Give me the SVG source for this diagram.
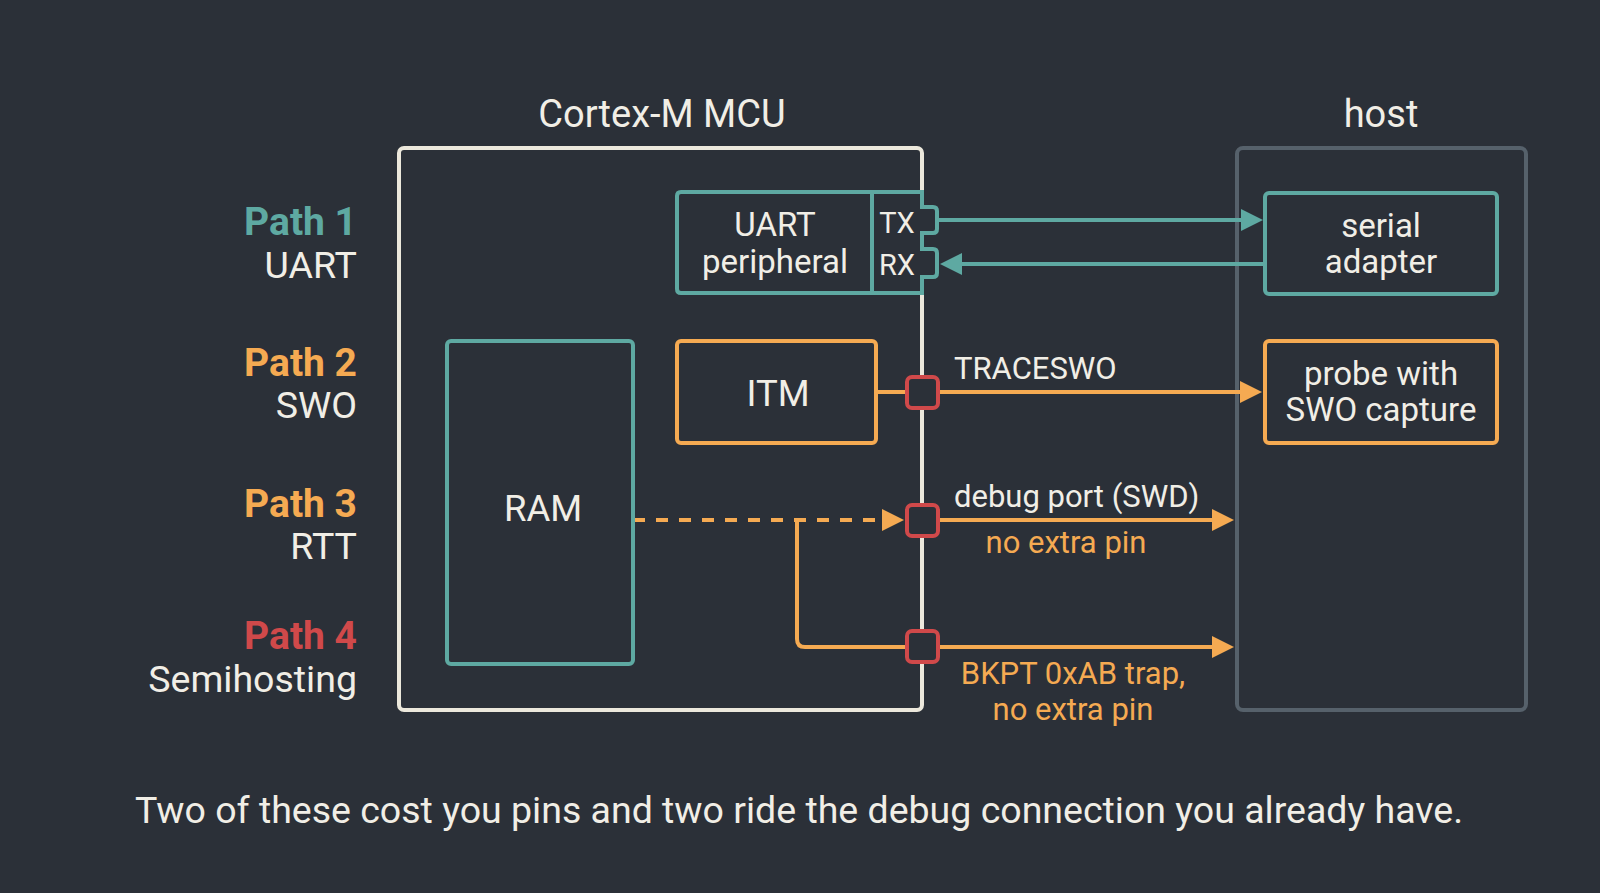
<svg xmlns="http://www.w3.org/2000/svg" width="1600" height="893" viewBox="0 0 1600 893">
<style>
text{font-family:Roboto,"Liberation Sans",sans-serif;fill:#f1eee6}
.lbl{font-size:37.5px;text-anchor:end}
.pb{font-weight:bold;font-size:39px}
.node{font-size:33px;text-anchor:middle}
.big{font-size:36.5px}
.title{font-size:38px;text-anchor:middle}
.pin{font-size:29px;text-anchor:middle}
.wire{font-size:31px}
.owire{font-size:31px;fill:#f5aa52;text-anchor:middle}
.teal{fill:none;stroke:#5ea9a2;stroke-width:4}
.orange{fill:none;stroke:#f5aa52;stroke-width:4}
.sq{fill:#2b3038;stroke:#d0494a;stroke-width:4}
</style>
<defs>
<marker id="ahT" viewBox="0 0 22 22" refX="10" refY="11" markerWidth="22" markerHeight="22" markerUnits="userSpaceOnUse" orient="auto"><path d="M0,0 L22,11 L0,22 z" fill="#5ea9a2"/></marker>
<marker id="ahO" viewBox="0 0 22 22" refX="10" refY="11" markerWidth="22" markerHeight="22" markerUnits="userSpaceOnUse" orient="auto"><path d="M0,0 L22,11 L0,22 z" fill="#f5aa52"/></marker>
</defs>
<rect width="1600" height="893" fill="#2b3038"/>

<g id="labels">
<text class="lbl pb" x="357" y="235" style="fill:#5ea9a2">Path 1</text>
<text class="lbl" x="357" y="278">UART</text>
<text class="lbl pb" x="357" y="376" style="fill:#f5aa52">Path 2</text>
<text class="lbl" x="357" y="418">SWO</text>
<text class="lbl pb" x="357" y="517" style="fill:#f5aa52">Path 3</text>
<text class="lbl" x="357" y="559">RTT</text>
<text class="lbl pb" x="357" y="649" style="fill:#d0494a">Path 4</text>
<text class="lbl" x="357" y="692">Semihosting</text>
</g>

<g id="mcu">
<text class="title" x="662" y="127">Cortex-M MCU</text>
<rect x="399" y="148" width="523" height="562" rx="5" fill="none" stroke="#ece8dc" stroke-width="4"/>
</g>

<g id="host">
<text class="title" x="1381" y="127">host</text>
<rect x="1237" y="148" width="289" height="562" rx="6" fill="none" stroke="#56616b" stroke-width="4"/>
</g>

<g id="connectors">
<line class="teal" x1="937" y1="220" x2="1251" y2="220" marker-end="url(#ahT)"/>
<line class="teal" x1="1265" y1="264" x2="952" y2="264" marker-end="url(#ahT)"/>
<line class="orange" x1="876" y1="392" x2="1250" y2="392" marker-end="url(#ahO)"/>
<line class="orange" x1="633" y1="520" x2="892" y2="520" stroke-dasharray="12 11" marker-end="url(#ahO)"/>
<line class="orange" x1="939" y1="520" x2="1222" y2="520" marker-end="url(#ahO)"/>
<path class="orange" d="M797,520 V639 Q797,647 805,647 H1222" marker-end="url(#ahO)"/>
<text class="wire" x="954" y="379">TRACESWO</text>
<text class="wire" x="954" y="507">debug port (SWD)</text>
<text class="owire" x="1066" y="553">no extra pin</text>
<text class="owire" x="1073" y="684">BKPT 0xAB trap,</text>
<text class="owire" x="1073" y="720">no extra pin</text>
</g>

<g id="uart">
<path d="M681,192 H922 V207 H933 Q937,207 937,211 V229 Q937,233 933,233 H922 V249 H933 Q937,249 937,253 V273 Q937,277 933,277 H922 V293 H681 Q677,293 677,289 V196 Q677,192 681,192 Z" fill="#2b3038" stroke="#5ea9a2" stroke-width="4"/>
<line x1="872" y1="192" x2="872" y2="293" stroke="#5ea9a2" stroke-width="4"/>
<text class="node" x="775" y="236">UART</text>
<text class="node" x="775" y="273">peripheral</text>
<text class="pin" x="897" y="233">TX</text>
<text class="pin" x="897" y="275">RX</text>
</g>

<g id="itm">
<rect x="677" y="341" width="199" height="102" rx="4" class="orange"/>
<text class="node big" x="778" y="406">ITM</text>
</g>

<g id="ram">
<rect x="447" y="341" width="186" height="323" rx="4" class="teal"/>
<text class="node big" x="543" y="521">RAM</text>
</g>

<g id="serial">
<rect x="1265" y="193" width="232" height="101" rx="4" class="teal"/>
<text class="node" x="1381" y="237">serial</text>
<text class="node" x="1381" y="273">adapter</text>
</g>

<g id="probe">
<rect x="1265" y="341" width="232" height="102" rx="4" class="orange"/>
<text class="node" x="1381" y="385">probe with</text>
<text class="node" x="1381" y="421">SWO capture</text>
</g>

<g id="pins">
<rect class="sq" x="907" y="377" width="31" height="31" rx="5"/>
<rect class="sq" x="907" y="505" width="31" height="31" rx="5"/>
<rect class="sq" x="907" y="631" width="31" height="31" rx="5"/>
</g>

<text x="799" y="823" font-size="37.5" text-anchor="middle">Two of these cost you pins and two ride the debug connection you already have.</text>
</svg>
